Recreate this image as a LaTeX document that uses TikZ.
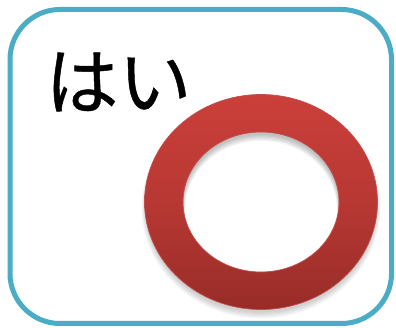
\documentclass[tikz,border=0pt]{standalone}
\usepackage{fontspec}
\newfontfamily\cjk[FakeBold=0.6]{Noto Sans CJK JP}
\definecolor{frameblue}{HTML}{4BACC6}
\definecolor{ringtop}{HTML}{CB3F3A}
\definecolor{ringbot}{HTML}{982C28}
\definecolor{ringedge}{HTML}{C0504D}
\tikzset{
  frameline/.style={draw=frameblue,line width=5pt},
  ringfill/.style={even odd rule,top color=ringtop,bottom color=ringbot,middle color=ringtop!62!ringbot},
  ringline/.style={draw=ringedge,line width=0.7pt},
  haze/.style={fill=black,fill opacity=0.03}
}
\begin{document}
\begin{tikzpicture}[x=1pt,y=-1pt]
\useasboundingbox (0,0) rectangle (396,328);
\fill[white] (0,0) rectangle (396,328);
\draw[frameline,rounded corners=50pt] (10,9.5) rectangle (391.5,323.5);
\node[font=\cjk,text=black,inner sep=0pt,anchor=center] (label) at (118.5,82) {\fontsize{73pt}{73pt}\selectfont はい};
% outer drop shadow
\foreach \g in {0,1,2,3,4,5}{
  \fill[haze] (261,{206+0.4*\g}) ellipse [x radius={115.5+0.8*\g}, y radius={106.5+0.8*\g}];
}
% shadow cast into the hole
\fill[white] (261,202) ellipse [x radius=78, y radius=70];
\begin{scope}
  \clip (261,202) ellipse [x radius=78, y radius=70];
  \foreach \g in {0,1,2,3,4,5}{
    \fill[black,fill opacity=0.045,even odd rule] (180,120) rectangle (342,285) (261,{205+1.0*\g}) ellipse [x radius={78-0.4*\g}, y radius={70-0.2*\g}];
  }
\end{scope}
% ring
\path[ringfill] (261,202) ellipse [x radius=116.5, y radius=107.5] (261,202) ellipse [x radius=78, y radius=70];
\draw[ringline] (261,202) ellipse [x radius=116.5, y radius=107.5];
\draw[ringline] (261,202) ellipse [x radius=78, y radius=70];
\end{tikzpicture}
\end{document}
